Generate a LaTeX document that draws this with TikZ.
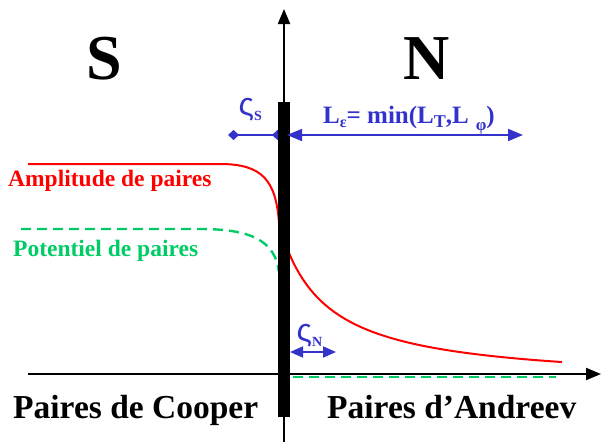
\documentclass[tikz,border=0pt]{standalone}
\usepackage{fontspec}
\setmainfont{Liberation Serif}
\newfontfamily\greekfont{Liberation Sans}
\usetikzlibrary{arrows.meta}
\definecolor{myred}{RGB}{255,0,0}
\definecolor{mygreen}{RGB}{0,204,102}
\definecolor{myblue}{RGB}{51,51,204}
\newcommand{\fsz}[1]{\fontsize{#1}{#1}\selectfont}
\begin{document}
\begin{tikzpicture}[x=1pt,y=-1pt,
  bigletter/.style={font=\fsz{64}\bfseries, inner sep=0pt, anchor=base},
  bottomlabel/.style={font=\fsz{33.5}\bfseries, inner sep=0pt, anchor=base},
  curvelabel/.style={font=\fsz{23.5}\bfseries, inner sep=0pt, anchor=base west},
  bluelabel/.style={font=\fsz{25}\bfseries, text=myblue, inner sep=0pt, anchor=base west},
  xilabel/.style={font=\fsz{32}, text=myblue, inner sep=0pt, anchor=base west},
  axisline/.style={line width=2.2pt, -{Triangle[length=15pt,width=12pt]}},
  bluearrow/.style={myblue, line width=1.7pt},
  redcurve/.style={myred, line width=2pt},
  greencurve/.style={mygreen, line width=2.4pt, dash pattern=on 10pt off 6pt},
]
\useasboundingbox (0,0) rectangle (601,442);

% coordinates
\coordinate (hstart) at (28,374);
\coordinate (hend) at (601,374);
\coordinate (vstart) at (284,442);
\coordinate (vend) at (284,9);

% curves (behind bar)
\draw[redcurve] (28,164) -- (220,164) .. controls (262,164) and (276,180) .. (279,223);
\draw[redcurve] plot[domain=0:273, samples=80] ({289+\x},{374-(7279/(\x+55.5)-10.2)});
\draw[greencurve] (21,229) -- (200,229) .. controls (250,229) and (275,240) .. (279,272);
\draw[greencurve] (293,377) -- (556,377);

% axes
\draw[axisline] (hstart) -- (hend);
\draw[axisline] (vstart) -- (vend);

% xi_S arrow
\coordinate (xisL) at (228,135);
\coordinate (xisR) at (283,135);
\draw[bluearrow, {Diamond[length=11pt,width=10pt]}-{Diamond[length=11pt,width=10pt]}] (xisL) -- (xisR);

% barrier
\fill[black] (278,102) rectangle (289.5,417);

% L arrow
\coordinate (LL) at (287,135);
\coordinate (LR) at (523,135);
\draw[bluearrow, {Triangle[length=15pt,width=12pt]}-{Triangle[length=15pt,width=12pt]}] (LL) -- (LR);

% xi_N arrow
\coordinate (xinL) at (290,352);
\coordinate (xinR) at (336,352);
\draw[bluearrow, {Triangle[length=13pt,width=11pt]}-{Triangle[length=13pt,width=11pt]}] (xinL) -- (xinR);

% labels
\node[bigletter] (S) at (104.5,79) {S};
\node[bigletter] (N) at (427,79) {N};

\node[bluelabel] (Leps) at (323,123) {L\raisebox{-4pt}{\fsz{16}ε}= min(L\raisebox{-4pt}{\fsz{18}T},L\hspace{7pt}\raisebox{-7pt}{\fsz{17}φ})};

\node[xilabel] (xis) at (238.5,115) {{\greekfont ς}\raisebox{-5pt}{\fsz{14}\bfseries S}};
\node[xilabel] (xin) at (296.5,341) {{\greekfont ς}\raisebox{-5pt}{\fsz{14}\bfseries N}};

\node[curvelabel, text=myred] (amp) at (8,186) {Amplitude de paires};
\node[curvelabel, text=mygreen] (pot) at (13,256) {Potentiel de paires};

\node[bottomlabel, anchor=base west] (cooper) at (13,418) {Paires de Cooper};
\node[bottomlabel, anchor=base west] (andreev) at (327,418) {Paires d’Andreev};
\end{tikzpicture}
\end{document}
